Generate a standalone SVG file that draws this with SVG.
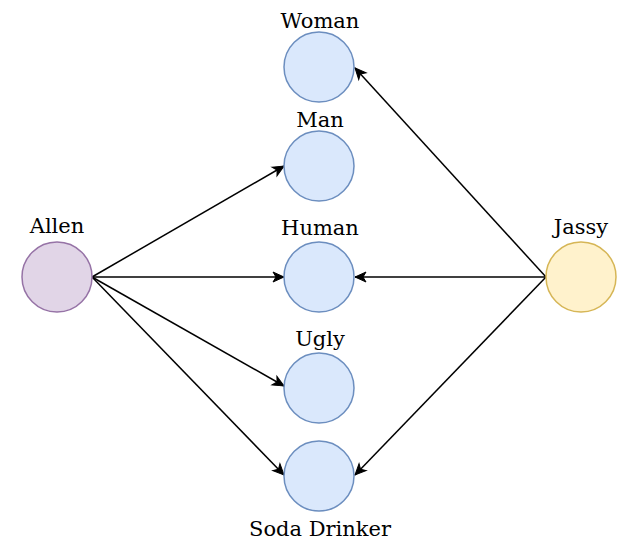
<svg xmlns="http://www.w3.org/2000/svg" width="642" height="548" viewBox="0 0 642 548">
<style>
.lbl{font-family:"DejaVu Serif",serif;font-size:21px;fill:#000;text-anchor:middle}
.blue{fill:#dae8fc;stroke:#6c8ebf;stroke-width:1.5}
.purple{fill:#e1d5e7;stroke:#9673a6;stroke-width:1.5}
.yellow{fill:#fff2cc;stroke:#d6b656;stroke-width:1.5}
.edge{fill:none;stroke:#000;stroke-width:1.5;marker-end:url(#arr)}
</style>
<defs>
<marker id="arr" markerUnits="userSpaceOnUse" markerWidth="12" markerHeight="10" refX="11" refY="5" orient="auto" overflow="visible">
<path d="M0,0 L11,5 L0,10 L3,5 Z" fill="#000" stroke="#000" stroke-width="1"/>
</marker>
</defs>
<rect width="642" height="548" fill="#fff"/>
<g id="connectors">
<line class="edge" x1="92" y1="277" x2="284" y2="166"/>
<line class="edge" x1="92" y1="277" x2="284" y2="277"/>
<line class="edge" x1="92" y1="277" x2="284" y2="386"/>
<line class="edge" x1="92" y1="277" x2="284" y2="475"/>
<line class="edge" x1="546" y1="277" x2="355" y2="68"/>
<line class="edge" x1="546" y1="277" x2="355" y2="277"/>
<line class="edge" x1="546" y1="277" x2="355" y2="475"/>
</g>
<g id="allen"><circle class="purple" cx="57" cy="277" r="35"/><text class="lbl" x="57" y="233">Allen</text></g>
<g id="woman"><circle class="blue" cx="319" cy="67" r="35"/><text class="lbl" x="320" y="28">Woman</text></g>
<g id="man"><circle class="blue" cx="319" cy="166" r="35"/><text class="lbl" x="320" y="127">Man</text></g>
<g id="human"><circle class="blue" cx="319" cy="277" r="35"/><text class="lbl" x="320" y="235">Human</text></g>
<g id="ugly"><circle class="blue" cx="319" cy="388" r="35"/><text class="lbl" x="320" y="346">Ugly</text></g>
<g id="soda"><circle class="blue" cx="319" cy="476" r="35"/><text class="lbl" x="320" y="536">Soda Drinker</text></g>
<g id="jassy"><circle class="yellow" cx="581" cy="277" r="35"/><text class="lbl" x="581" y="234">Jassy</text></g>
</svg>
